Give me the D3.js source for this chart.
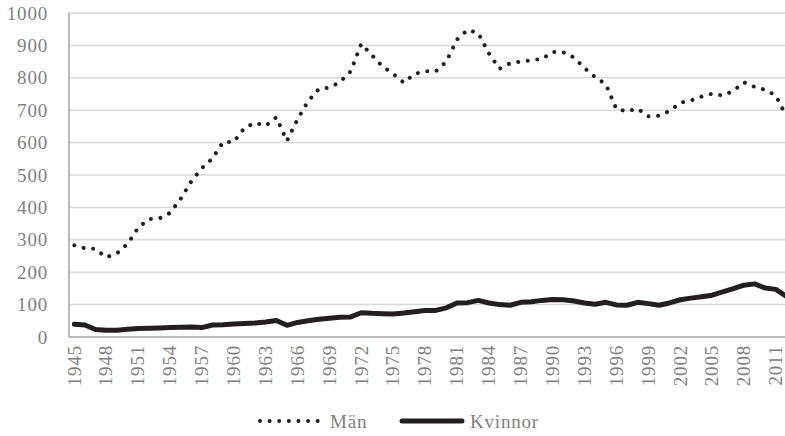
<!DOCTYPE html>
<html>
<head>
<meta charset="utf-8">
<script src="https://d3js.org/d3.v7.min.js"></script>
<style>
  body { margin: 0; background: #fff; }
  svg text { font-family: "Liberation Serif", "DejaVu Serif", serif; fill: #808080; }
</style>
</head>
<body>
<div id="chart"></div>
<script>
// years 1945..2012
const years = d3.range(1945, 2013);

const man = [283, 274, 272, 246, 258, 287, 337, 364, 366, 383,
             426, 480, 521, 551, 602, 602, 645, 661, 652, 678,
             605, 672, 728, 765, 770, 787, 820, 905, 870, 835,
             812, 785, 812, 820, 820, 850, 918, 948, 938, 875,
             828, 845, 850, 854, 858, 880, 879, 863, 830, 802,
             780, 703, 697, 705, 681, 683, 698, 723, 730, 742,
             751, 745, 760, 786, 772, 763, 745, 680];

const kvinnor = [39, 37, 23, 21, 21, 24, 26, 27, 28, 29,
                 30, 31, 29, 37, 38, 40, 42, 43, 46, 51,
                 36, 45, 50, 55, 58, 61, 62, 75, 73, 72,
                 71, 74, 78, 82, 82, 90, 105, 106, 113, 105,
                 100, 98, 107, 109, 113, 116, 115, 111, 105, 101,
                 107, 99, 98, 107, 103, 98, 105, 115, 120, 124,
                 129, 139, 149, 160, 164, 151, 147, 125];

const yTicks = [0, 100, 200, 300, 400, 500, 600, 700, 800, 900, 1000];
const seriesNames = ["Män", "Kvinnor"];

const width = 785, height = 436;
const mLeft = 69, mTop = 13, mBottom = 337;
const step = 10.63;

const svg = d3.select("#chart").append("svg")
    .attr("width", width)
    .attr("height", height);

const x = d3.scaleBand()
    .domain(years)
    .range([mLeft, mLeft + years.length * step]);

const y = d3.scaleLinear()
    .domain([0, 1000])
    .range([mBottom, mTop]);

const cx = d => x(d) + x.bandwidth() / 2;

// gridlines
svg.append("g")
    .selectAll("line")
    .data(yTicks.filter(t => t > 0))
    .join("line")
    .attr("x1", mLeft).attr("x2", width)
    .attr("y1", d => y(d)).attr("y2", d => y(d))
    .attr("stroke", "#d9d9d9")
    .attr("stroke-width", 1.5);

// axis lines
svg.append("line")
    .attr("x1", mLeft).attr("x2", mLeft)
    .attr("y1", y(1000)).attr("y2", mBottom)
    .attr("stroke", "#a6a6a6").attr("stroke-width", 1.5);
svg.append("line")
    .attr("x1", mLeft).attr("x2", width)
    .attr("y1", mBottom).attr("y2", mBottom)
    .attr("stroke", "#a6a6a6").attr("stroke-width", 1.5);

// y labels
svg.append("g")
    .selectAll("text")
    .data(yTicks)
    .join("text")
    .attr("x", 48)
    .attr("y", d => y(d))
    .attr("dy", "0.35em")
    .attr("text-anchor", "end")
    .style("font-size", "19px")
    .style("letter-spacing", "0.8px")
    .text(d => d);

// x labels, every third year
svg.append("g")
    .selectAll("text")
    .data(years.filter((d, i) => i % 3 === 0))
    .join("text")
    .attr("transform", d => `translate(${cx(d)},${mBottom + 8}) rotate(-90)`)
    .attr("dy", "0.33em")
    .attr("text-anchor", "end")
    .style("font-size", "19px")
    .style("letter-spacing", "0.8px")
    .text(d => d);

const line = d3.line()
    .x((d, i) => cx(years[i]))
    .y(d => y(d));

// Kvinnor solid
svg.append("path")
    .datum(kvinnor)
    .attr("d", line)
    .attr("fill", "none")
    .attr("stroke", "#231f20")
    .attr("stroke-width", 5)
    .attr("stroke-linejoin", "round")
    .attr("stroke-linecap", "round");

// Män dotted
svg.append("path")
    .datum(man)
    .attr("d", line)
    .attr("fill", "none")
    .attr("stroke", "#231f20")
    .attr("stroke-width", 4)
    .attr("stroke-linecap", "round")
    .attr("stroke-dasharray", "0.01 9.6");

// legend
const leg = svg.append("g");
leg.append("line")
    .attr("x1", 260).attr("x2", 318)
    .attr("y1", 421).attr("y2", 421)
    .attr("stroke", "#231f20").attr("stroke-width", 4)
    .attr("stroke-linecap", "round")
    .attr("stroke-dasharray", "0.01 9.6");
leg.append("text")
    .attr("x", 330).attr("y", 428)
    .style("font-size", "19px")
    .style("letter-spacing", "0.8px")
    .text(seriesNames[0]);
leg.append("line")
    .attr("x1", 402).attr("x2", 462)
    .attr("y1", 421).attr("y2", 421)
    .attr("stroke", "#231f20").attr("stroke-width", 5)
    .attr("stroke-linecap", "round");
leg.append("text")
    .attr("x", 470).attr("y", 428)
    .style("font-size", "19px")
    .style("letter-spacing", "0.8px")
    .text(seriesNames[1]);
</script>
</body>
</html>
